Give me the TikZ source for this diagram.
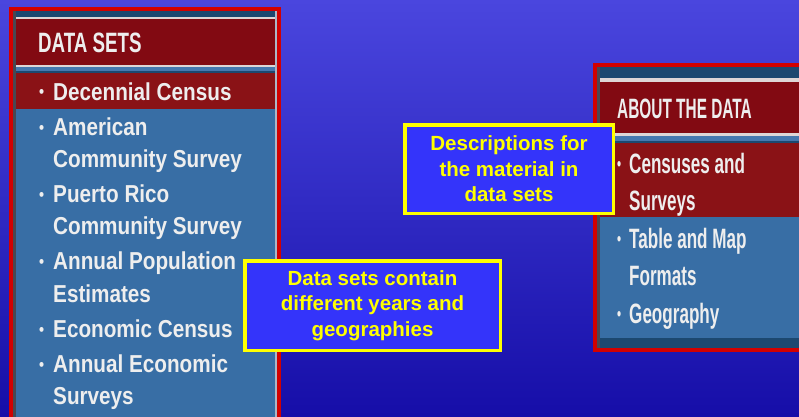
\documentclass[tikz,border=0pt]{standalone}
\usepackage{fontspec}
\setmainfont{Liberation Sans}
\newfontfamily\hdrLfont[FakeStretch=0.67]{Liberation Sans}
\newfontfamily\hdrRfont[FakeStretch=0.55]{Liberation Sans}
\newfontfamily\itemLfont[FakeStretch=0.845]{Liberation Sans}
\newfontfamily\itemRfont[FakeStretch=0.61]{Liberation Sans}
\definecolor{bgtop}{RGB}{74,70,222}
\definecolor{bgbot}{RGB}{22,14,168}
\definecolor{bordred}{RGB}{210,0,0}
\definecolor{hdrred}{RGB}{130,10,18}
\definecolor{bandred}{RGB}{138,18,22}
\definecolor{steel}{RGB}{56,110,165}
\definecolor{darkstrip}{RGB}{28,72,112}
\definecolor{lightline}{RGB}{222,214,214}
\definecolor{midblue}{RGB}{70,120,175}
\definecolor{grayedge}{RGB}{72,72,82}
\definecolor{txtwhite}{RGB}{238,238,238}
\definecolor{boxfill}{RGB}{52,52,250}
\definecolor{boxyellow}{RGB}{255,255,0}
\newcommand{\bulL}{\makebox[14pt][l]{\raisebox{2.5pt}{\fontsize{17}{17}\selectfont •}}}
\newcommand{\bulR}{\makebox[12pt][l]{\raisebox{2.5pt}{\fontsize{19}{19}\selectfont •}}}
\tikzset{
  hdrL/.style={inner sep=0pt, anchor=base west, text=txtwhite, font=\hdrLfont\bfseries\fontsize{28}{28}\selectfont},
  hdrR/.style={inner sep=0pt, anchor=base west, text=txtwhite, font=\hdrRfont\bfseries\fontsize{28}{28}\selectfont},
  itemL/.style={inner sep=0pt, anchor=base west, text=txtwhite, font=\itemLfont\bfseries\fontsize{24.5}{24.5}\selectfont},
  itemR/.style={inner sep=0pt, anchor=base west, text=txtwhite, font=\itemRfont\bfseries\fontsize{28}{28}\selectfont},
  note/.style={draw=boxyellow, line width=3.5pt, fill=boxfill, text=boxyellow, align=center, inner sep=0pt,
    font=\bfseries\fontsize{20.5}{25.5}\selectfont}
}
\begin{document}
\begin{tikzpicture}[x=1pt,y=-1pt]
\useasboundingbox (0,0) rectangle (799,416);
\clip (0,0) rectangle (799,416);
\shade[top color=bgtop, bottom color=bgbot] (0,0) rectangle (799,416);

% ---------- left panel ----------
\fill[bordred] (9,7) rectangle (281,420);
\fill[steel] (13,11) rectangle (277,420);
\fill[darkstrip] (13,11) rectangle (277,16.5);
\fill[lightline] (13,16.5) rectangle (277,19);
\fill[hdrred] (13,19) rectangle (277,65);
\fill[lightline] (13,65) rectangle (277,67);
\fill[midblue] (13,67) rectangle (277,71);
\fill[darkstrip] (13,71) rectangle (277,73);
\fill[bandred] (13,73) rectangle (277,109);
\fill[grayedge] (13,11) rectangle (16,420);
\fill[lightline!70!steel] (275,11) rectangle (277,420);

\node[hdrL] (dshdr) at (38,52) {DATA SETS};
\node[itemL] (l1) at (39,100) {\bulL Decennial Census};
\node[itemL] (l2a) at (39,135.5) {\bulL American};
\node[itemL] (l2b) at (53,167.5) {Community Survey};
\node[itemL] (l3a) at (39,202.5) {\bulL Puerto Rico};
\node[itemL] (l3b) at (53,234.5) {Community Survey};
\node[itemL] (l4a) at (39,269.5) {\bulL Annual Population};
\node[itemL] (l4b) at (53,302.5) {Estimates};
\node[itemL] (l5) at (39,337.5) {\bulL Economic Census};
\node[itemL] (l6a) at (39,372.5) {\bulL Annual Economic};
\node[itemL] (l6b) at (53,404.5) {Surveys};

% ---------- right panel ----------
\fill[bordred] (593,63) rectangle (805,352);
\fill[steel] (597,67) rectangle (805,348);
\fill[darkstrip] (597,67) rectangle (805,78);
\fill[lightline] (597,78) rectangle (805,82);
\fill[hdrred] (597,82) rectangle (805,133);
\fill[lightline] (597,133) rectangle (805,136);
\fill[midblue] (597,136) rectangle (805,141);
\fill[darkstrip] (597,141) rectangle (805,143);
\fill[bandred] (597,143) rectangle (805,217);
\fill[darkstrip] (597,338) rectangle (805,348);
\fill[grayedge] (597,67) rectangle (600,348);

\node[hdrR] (abhdr) at (617,118) {ABOUT THE DATA};
\node[itemR] (r1a) at (617,173) {\bulR Censuses and};
\node[itemR] (r1b) at (629,210) {Surveys};
\node[itemR] (r2a) at (617,248) {\bulR Table and Map};
\node[itemR] (r2b) at (629,285) {Formats};
\node[itemR] (r3) at (617,323) {\bulR Geography};

% ---------- notes ----------
\node[note, minimum width=208.5pt, minimum height=88.5pt] (desc) at (509,169)
  {Descriptions for\\the material in\\data sets};
\node[note, minimum width=255.5pt, minimum height=89.5pt] (cont) at (372.5,305.5)
  {Data sets contain\\different years and\\geographies};
\end{tikzpicture}
\end{document}
